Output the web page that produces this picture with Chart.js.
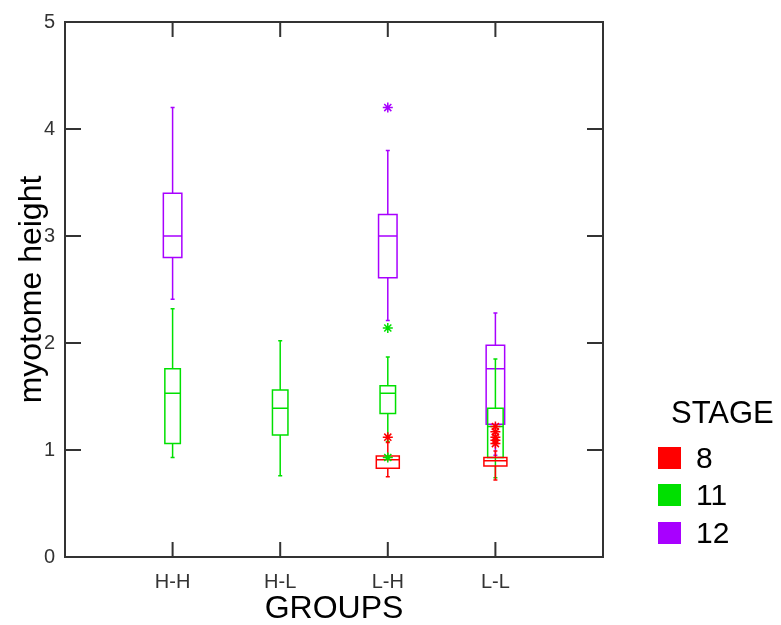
<!DOCTYPE html>
<html>
<head>
<meta charset="utf-8">
<script src="https://cdn.jsdelivr.net/npm/chart.js@4.4.1/dist/chart.umd.min.js"></script>
<style>
  body { margin: 0; background: #ffffff; }
  #wrap { width: 781px; height: 625px; }
</style>
</head>
<body>
<div id="wrap"><canvas id="boxChart" width="781" height="625"></canvas></div>
<script>
// categories
const groups = ["H-H", "H-L", "L-H", "L-L"];
const stages = ["8", "11", "12"];

// stage 8 (null = no box for that group)
const low8 = [null, null, 0.75, 0.72];
const q1_8 = [null, null, 0.83, 0.85];
const med8 = [null, null, 0.91, 0.9];
const q3_8 = [null, null, 0.945, 0.93];
const high8 = [null, null, 1.07, 0.99];
const out8 = [[], [], [1.12], [1.22, 1.17, 1.12, 1.09, 1.06]];

// stage 11
const low11 = [0.93, 0.76, 1.08, 0.74];
const q1_11 = [1.06, 1.14, 1.34, 0.93];
const med11 = [1.53, 1.39, 1.53, 1.22];
const q3_11 = [1.76, 1.56, 1.6, 1.39];
const high11 = [2.32, 2.02, 1.87, 1.85];
const out11 = [[], [], [2.14, 0.93], []];

// stage 12
const low12 = [2.41, null, 2.21, 0.95];
const q1_12 = [2.8, null, 2.61, 1.24];
const med12 = [3.0, null, 3.0, 1.76];
const q3_12 = [3.4, null, 3.2, 1.98];
const high12 = [4.2, null, 3.8, 2.28];
const out12 = [[], [], [4.2], []];

const yTicks = [0, 1, 2, 3, 4, 5];

const colors = ["#ff0000", "#00e000", "#a800ff"];
const boxWidths = [23, 15.5, 18.5];
const FONT = "'Liberation Sans', Arial, sans-serif";

const boxStats = [
  { low: low8, q1: q1_8, med: med8, q3: q3_8, high: high8 },
  { low: low11, q1: q1_11, med: med11, q3: q3_11, high: high11 },
  { low: low12, q1: q1_12, med: med12, q3: q3_12, high: high12 },
];
const outliers = [out8, out11, out12];

// outlier asterisks as scatter points
const datasets = outliers.map((list, s) => {
  let pts = [];
  list.forEach((vals, g) => vals.forEach((v) => pts.push({ x: g + 1, y: v })));
  return {
    label: stages[s],
    data: pts,
    pointStyle: "star",
    radius: 5,
    borderWidth: 1.5,
    borderColor: colors[s],
    backgroundColor: colors[s],
  };
});

const boxPlugin = {
  id: "boxes",
  beforeDatasetsDraw(chart) {
    const { ctx, scales: { x, y } } = chart;
    ctx.save();
    ctx.lineWidth = 1.5;
    [2, 1, 0].forEach((s) => {
      const st = boxStats[s];
      ctx.strokeStyle = colors[s];
      groups.forEach((g, i) => {
        if (st.med[i] == null) return;
        const cx = x.getPixelForValue(i + 1);
        const h = boxWidths[s] / 2;
        const yl = y.getPixelForValue(st.low[i]);
        const y1 = y.getPixelForValue(st.q1[i]);
        const ym = y.getPixelForValue(st.med[i]);
        const y3 = y.getPixelForValue(st.q3[i]);
        const yh = y.getPixelForValue(st.high[i]);
        ctx.beginPath();
        // whiskers + caps
        ctx.moveTo(cx, y1); ctx.lineTo(cx, yl);
        ctx.moveTo(cx - 2, yl); ctx.lineTo(cx + 2, yl);
        ctx.moveTo(cx, y3); ctx.lineTo(cx, yh);
        ctx.moveTo(cx - 2, yh); ctx.lineTo(cx + 2, yh);
        // box and median
        ctx.rect(cx - h, y3, h * 2, y1 - y3);
        ctx.moveTo(cx - h, ym); ctx.lineTo(cx + h, ym);
        ctx.stroke();
      });
    });
    ctx.restore();
  },
  afterDraw(chart) {
    const { ctx, chartArea: a, scales: { x, y } } = chart;
    ctx.save();
    // frame with inward ticks
    ctx.strokeStyle = "#333";
    ctx.lineWidth = 2;
    ctx.strokeRect(a.left, a.top, a.right - a.left, a.bottom - a.top);
    ctx.beginPath();
    x.ticks.forEach((t) => {
      const px = x.getPixelForValue(t.value);
      ctx.moveTo(px, a.bottom); ctx.lineTo(px, a.bottom - 15);
      ctx.moveTo(px, a.top); ctx.lineTo(px, a.top + 15);
    });
    y.ticks.forEach((t) => {
      if (t.value <= 0 || t.value >= 5) return;
      const py = y.getPixelForValue(t.value);
      ctx.moveTo(a.left, py); ctx.lineTo(a.left + 16, py);
      ctx.moveTo(a.right, py); ctx.lineTo(a.right - 16, py);
    });
    ctx.stroke();

    // legend
    ctx.fillStyle = "#000";
    ctx.textBaseline = "alphabetic";
    ctx.font = "31px " + FONT;
    ctx.fillText("STAGE", 671, 423);
    ctx.font = "30px " + FONT;
    stages.forEach((s, i) => {
      const top = [447, 484, 522][i];
      ctx.fillStyle = colors[i];
      ctx.fillRect(658, top, 23, 22);
      ctx.fillStyle = "#000";
      ctx.fillText(s, 696, top + 21);
    });
    ctx.restore();
  },
};

new Chart(document.getElementById("boxChart"), {
  type: "scatter",
  data: { datasets: datasets },
  options: {
    responsive: false,
    animation: false,
    layout: { padding: { top: 21, right: 178, bottom: 0, left: 0 } },
    plugins: { legend: { display: false }, tooltip: { enabled: false } },
    scales: {
      x: {
        type: "linear",
        min: 0,
        max: 5,
        afterBuildTicks: (s) => { s.ticks = groups.map((g, i) => ({ value: i + 1 })); },
        afterFit: (s) => { s.height = 68; },
        grid: { display: false, drawTicks: false },
        border: { display: false },
        ticks: {
          padding: 13,
          color: "#333",
          font: { size: 20, family: FONT },
          callback: (v) => groups[v - 1],
        },
        title: {
          display: true,
          text: "GROUPS",
          color: "#000",
          padding: { top: 0, bottom: 0 },
          font: { size: 32, family: FONT, lineHeight: 1 },
        },
      },
      y: {
        min: 0,
        max: 5,
        afterBuildTicks: (s) => { s.ticks = yTicks.map((v) => ({ value: v })); },
        afterFit: (s) => { s.width = 65; },
        grid: { display: false, drawTicks: false },
        border: { display: false },
        ticks: {
          padding: 10,
          color: "#333",
          font: { size: 20, family: FONT },
        },
        title: {
          display: true,
          text: "myotome height",
          color: "#000",
          padding: { top: 16, bottom: 0 },
          font: { size: 32, family: FONT, lineHeight: 1 },
        },
      },
    },
  },
  plugins: [boxPlugin],
});
</script>
</body>
</html>
